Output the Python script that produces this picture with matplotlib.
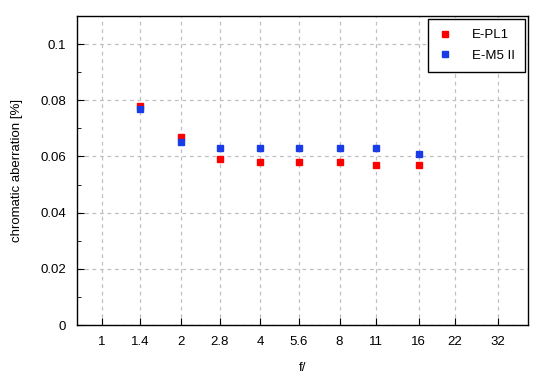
import numpy as np
import matplotlib
matplotlib.use("Agg")
import matplotlib.pyplot as plt
from matplotlib.ticker import MultipleLocator

plt.rcParams['font.family'] = ['Liberation Sans', 'DejaVu Sans']

f_ticks = [1, 1.4, 2, 2.8, 4, 5.6, 8, 11, 16, 22, 32]
f_labels = ["1", "1.4", "2", "2.8", "4", "5.6", "8", "11", "16", "22", "32"]
apertures = [1.4, 2, 2.8, 4, 5.6, 8, 11, 16]
epl1 = [0.078, 0.067, 0.059, 0.058, 0.058, 0.058, 0.057, 0.057]
em5 = [0.077, 0.065, 0.063, 0.063, 0.063, 0.063, 0.063, 0.061]

def fx(f):
    return 2 * np.log2(np.asarray(f, dtype=float))

fig = plt.figure(figsize=(5.5, 3.8), dpi=100)
ax = fig.add_axes([77/550, 1 - 325/380, (528-77)/550, (325-16)/380])

ax.plot(fx(apertures), epl1, 's', color='#ff0000', markersize=5, label='E-PL1', zorder=3)
ax.plot(fx(apertures), em5, 's', color='#1a3ce6', markersize=5, label='E-M5 II', zorder=3)

ax.set_xlim(-0.63, 10.76)
ax.set_ylim(0, 0.11)
ax.set_xticks(fx(f_ticks))
ax.set_xticklabels(f_labels)
ax.set_yticks([0, 0.02, 0.04, 0.06, 0.08, 0.1])
ax.set_yticklabels(["0", "0.02", "0.04", "0.06", "0.08", "0.1"])
ax.yaxis.set_minor_locator(MultipleLocator(0.01))

ax.tick_params(axis='both', which='both', direction='in', top=False, right=False,
               labelsize=9.5, colors='black')
ax.tick_params(axis='both', which='major', length=5, pad=8)
ax.tick_params(axis='y', which='minor', length=3)
ax.grid(True, which='major', color='#c0c0c0', linestyle=(0, (3, 3)), linewidth=0.9)
for s in ax.spines.values():
    s.set_linewidth(1.0)
    s.set_color('black')

ax.set_xlabel('f/', fontsize=9.5, labelpad=10)
ax.set_ylabel('chromatic aberration [%]', fontsize=9.5, labelpad=12)

leg = ax.legend(loc='upper right', fontsize=9.5, frameon=True, fancybox=False,
                edgecolor='black', framealpha=1, borderaxespad=0.2,
                handletextpad=1.5, borderpad=0.8, labelspacing=0.6, handlelength=1.0)
leg.get_frame().set_linewidth(1.0)

fig.savefig('out.png', dpi=100)
